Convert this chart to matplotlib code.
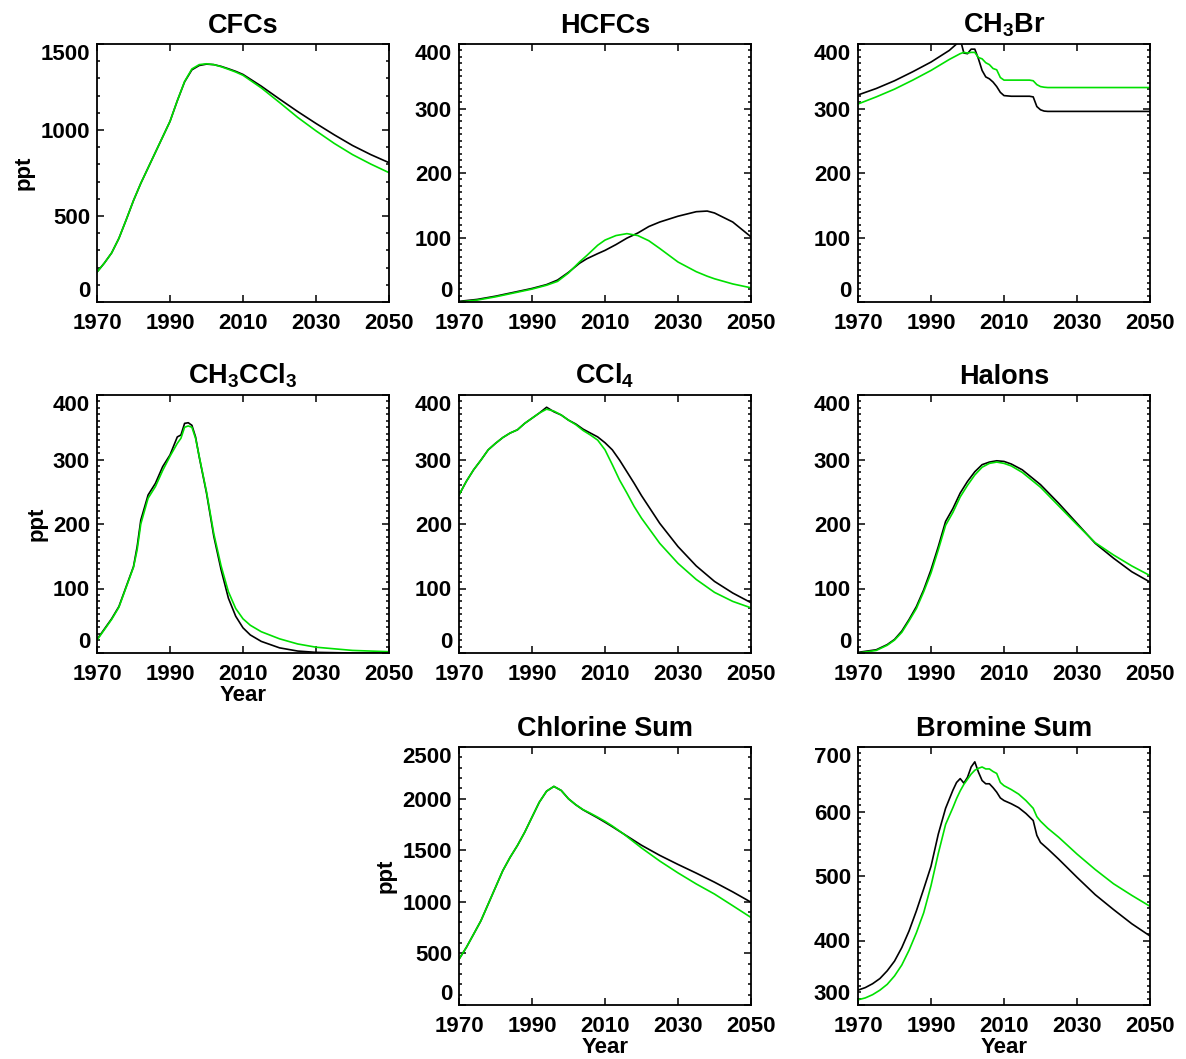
import matplotlib.pyplot as plt
from matplotlib.ticker import MultipleLocator

plt.rcParams['font.family'] = ['Liberation Sans', 'DejaVu Sans']
plt.rcParams['font.weight'] = 'bold'
plt.rcParams['mathtext.fontset'] = 'custom'
plt.rcParams['mathtext.rm'] = 'Liberation Sans:bold'
plt.rcParams['mathtext.it'] = 'Liberation Sans:bold'
plt.rcParams['mathtext.bf'] = 'Liberation Sans:bold'

BLACK = 'black'
GREEN = '#00e000'

# CFCs
cfc_years = [1970, 1972, 1974, 1976, 1978, 1980, 1982, 1984, 1986, 1988, 1990, 1992, 1994, 1996, 1998,
             2000, 2002, 2004, 2006, 2008, 2010, 2015, 2020, 2025, 2030, 2035, 2040, 2045, 2050]
cfc_black = [174, 226, 285, 370, 478, 590, 690, 780, 870, 960, 1050, 1170, 1280, 1350, 1375,
             1383, 1380, 1370, 1356, 1341, 1323, 1255, 1180, 1107, 1038, 972, 910, 857, 810]
cfc_green = [174, 226, 285, 370, 478, 590, 690, 780, 870, 960, 1050, 1170, 1282, 1355, 1380,
             1385, 1380, 1368, 1353, 1337, 1318, 1245, 1160, 1073, 995, 922, 857, 802, 752]

# HCFCs
hcfc_years = [1970, 1975, 1980, 1985, 1990, 1994, 1997, 2000, 2003, 2005, 2008, 2010, 2013, 2016,
              2019, 2022, 2025, 2030, 2035, 2038, 2040, 2045, 2050]
hcfc_black = [1, 4, 9, 15, 21, 27, 34, 46, 60, 67, 75, 80, 89, 99,
              107, 117, 124, 133, 140, 141, 138, 124, 101]
hcfc_green = [0, 3, 8, 14, 20, 26, 32, 45, 62, 72, 88, 96, 103, 106,
              103, 95, 83, 62, 47, 40, 36, 28, 22]

# CH3Br
mebr_years = [1970, 1975, 1980, 1985, 1990, 1995, 1996, 1997, 1998, 1999, 2000, 2001, 2002, 2003,
              2004, 2005, 2006, 2007, 2008, 2009, 2010, 2012, 2014, 2016, 2017, 2018, 2019, 2020,
              2021, 2022, 2030, 2040, 2050]
mebr_black = [321, 331, 343, 357, 372, 390, 395, 400, 408, 386, 385, 392, 392, 377,
              359, 349, 346, 341, 334, 325, 320, 319, 319, 319, 319, 318, 303, 298,
              296, 295.5, 295.5, 295.5, 295.5]
mebr_green = [307, 318, 330, 344, 359, 376, 379, 382, 385, 387, 386, 387, 387, 379,
              377, 371, 368, 362, 360, 348, 344, 344, 344, 344, 344, 343, 337, 334,
              333, 332.5, 332.5, 332.5, 332.5]

# CH3CCl3
mcf_years = [1970, 1972, 1974, 1976, 1978, 1980, 1981, 1982, 1984, 1986, 1988, 1990, 1992, 1993,
             1994, 1995, 1996, 1997, 1998, 2000, 2002, 2004, 2006, 2008, 2010, 2012, 2015, 2020,
             2025, 2030, 2040, 2050]
mcf_black = [21, 37, 53, 72, 103, 134, 165, 206, 245, 263, 289, 307, 335, 338,
             356, 357, 353, 335, 304, 248, 181, 129, 85, 57, 39, 28, 18, 8,
             3, 1, 0, 0]
mcf_green = [20, 36, 52, 71, 102, 133, 160, 200, 240, 258, 283, 305, 325, 333,
             350, 352, 350, 333, 305, 250, 185, 135, 95, 69, 53, 43, 33, 22,
             14, 9, 4, 2]

# CCl4
ccl4_years = [1970, 1972, 1974, 1976, 1978, 1980, 1982, 1984, 1986, 1988, 1990, 1992, 1994, 1996,
              1998, 2000, 2002, 2004, 2006, 2008, 2010, 2012, 2014, 2016, 2018, 2020,
              2025, 2030, 2035, 2040, 2045, 2050]
ccl4_black = [245, 266, 284, 299, 315, 325, 334, 341, 346, 356, 364, 372, 381, 374,
              369, 361, 355, 347, 341, 335, 326, 315, 299, 281, 263, 244,
              201, 165, 135, 111, 93, 78]
ccl4_green = [245, 266, 284, 299, 315, 325, 334, 341, 346, 356, 364, 372, 378, 375,
              369, 361, 354, 345, 338, 330, 315, 292, 268, 248, 227, 209,
              170, 139, 114, 94, 80, 70]

# Halons
halon_years = [1970, 1975, 1978, 1980, 1982, 1984, 1986, 1988, 1990, 1992, 1994, 1996, 1998, 2000,
               2002, 2004, 2006, 2008, 2010, 2012, 2015, 2020, 2025, 2030, 2035, 2040, 2045, 2050]
halon_black = [1, 5, 13, 21, 34, 52, 72, 98, 129, 165, 204, 224, 248, 266,
               281, 292, 296, 298, 297, 293, 284, 261, 232, 201, 170, 147, 126, 110]
halon_green = [0, 4, 12, 20, 32, 50, 69, 95, 124, 160, 198, 218, 242, 260,
               276, 288, 294, 296, 294, 290, 280, 257, 228, 199, 171, 152, 135, 120]

# Chlorine sum
cl_years = [1970, 1972, 1974, 1976, 1978, 1980, 1982, 1984, 1986, 1988, 1990, 1992, 1994, 1996,
            1998, 2000, 2002, 2004, 2006, 2008, 2010, 2012, 2015, 2020, 2025, 2030, 2035, 2040,
            2045, 2050]
cl_black = [444, 557, 686, 816, 978, 1140, 1302, 1431, 1545, 1674, 1820, 1965, 2072, 2118,
            2079, 1998, 1940, 1891, 1852, 1813, 1771, 1728, 1660, 1548, 1450, 1362, 1278, 1190,
            1096, 996]
cl_green = [444, 557, 686, 816, 978, 1140, 1302, 1431, 1545, 1674, 1820, 1965, 2072, 2118,
            2079, 1998, 1940, 1893, 1858, 1820, 1780, 1735, 1660, 1522, 1395, 1280, 1173, 1075,
            962, 848]

# Bromine sum
br_years = [1970, 1972, 1974, 1976, 1978, 1980, 1982, 1984, 1986, 1988, 1990, 1992, 1994, 1996,
            1997, 1998, 1999, 2000, 2001, 2002, 2003, 2004, 2005, 2006, 2007, 2008, 2009, 2010,
            2012, 2014, 2016, 2018, 2019, 2020, 2022, 2025, 2030, 2035, 2040, 2045, 2050]
br_black = [323, 327, 333, 341, 353, 368, 389, 415, 446, 480, 515, 565, 605, 633,
            645, 651, 644, 653, 669, 677, 661, 648, 643, 643, 637, 630, 621, 617,
            612, 606, 597, 586, 563, 552, 542, 526, 498, 471, 448, 426, 407]
br_green = [308, 311, 316, 323, 332, 345, 362, 385, 412, 443, 485, 535, 580, 606,
            620, 632, 642, 650, 658, 664, 667, 669, 666, 666, 662, 659, 645, 640,
            634, 627, 617, 605, 592, 585, 574, 560, 534, 510, 488, 470, 453]

panels = [
    ('CFCs', cfc_years, cfc_black, cfc_green, (0, 1500), 500, 100, 0, 0),
    ('HCFCs', hcfc_years, hcfc_black, hcfc_green, (0, 400), 100, 10, 0, 1),
    (r'CH$_3$Br', mebr_years, mebr_black, mebr_green, (0, 400), 100, 10, 0, 2),
    (r'CH$_3$CCl$_3$', mcf_years, mcf_black, mcf_green, (0, 400), 100, 10, 1, 0),
    (r'CCl$_4$', ccl4_years, ccl4_black, ccl4_green, (0, 400), 100, 10, 1, 1),
    ('Halons', halon_years, halon_black, halon_green, (0, 400), 100, 10, 1, 2),
    ('Chlorine Sum', cl_years, cl_black, cl_green, (0, 2500), 500, 100, 2, 1),
    ('Bromine Sum', br_years, br_black, br_green, (300, 700), 100, 10, 2, 2),
]

W, H = 1186, 1059
col_left = [97, 459, 858]
row_top = [44, 395, 747]
ax_w, ax_h = 292, 258

fig = plt.figure(figsize=(W / 100, H / 100), dpi=100)

for title, years, black, green, ylim, major, minor, row, col in panels:
    ax = fig.add_axes([col_left[col] / W, 1 - (row_top[row] + ax_h) / H, ax_w / W, ax_h / H])
    ax.plot(years, black, color=BLACK, lw=1.2)
    ax.plot(years, green, color=GREEN, lw=1.2)
    ax.set_xlim(1970, 2050)
    ax.set_ylim(*ylim)
    ax.set_xticks([1970, 1990, 2010, 2030, 2050])
    ax.set_yticks(list(range(ylim[0], ylim[1] + 1, major)))
    ax.yaxis.set_minor_locator(MultipleLocator(minor))
    ax.tick_params(which='both', direction='in', top=True, right=True, width=1.1, labelsize=16)
    ax.tick_params(which='major', length=5)
    ax.tick_params(which='minor', length=2.5)
    ax.tick_params(axis='x', pad=8)
    ax.tick_params(axis='y', pad=5)
    for s in ax.spines.values():
        s.set_linewidth(1.3)
    # keep the end labels inside the axis height
    yt = ax.yaxis.get_major_ticks()
    yt[0].label1.set_verticalalignment('bottom')
    yt[-1].label1.set_verticalalignment('top')
    ax.set_title(title, fontsize=19.5, fontweight='bold', pad=8)
    if col == 0 or (row == 2 and col == 1):
        ax.set_ylabel('ppt', fontsize=16, fontweight='bold', labelpad=4)
    if row == 1 and col == 0 or row == 2:
        ax.set_xlabel('Year', fontsize=16, fontweight='bold', labelpad=0)

fig.savefig('out.png', dpi=100)
